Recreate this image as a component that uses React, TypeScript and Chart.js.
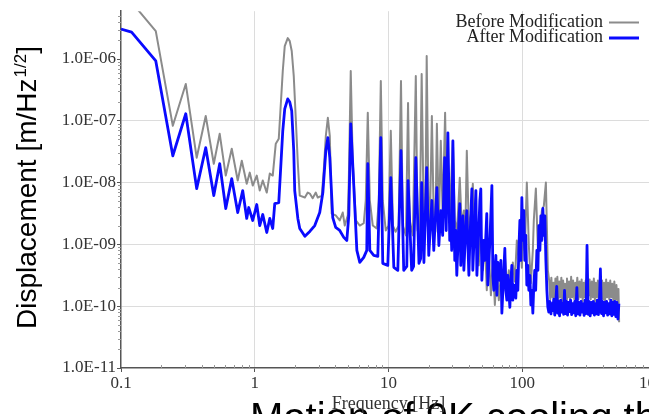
import React, { useEffect, useRef } from 'react';
import { Chart, registerables } from 'chart.js';

Chart.register(...registerables);

// ---------------- data (Hz, m/Hz^1/2) ----------------
const afterLowFreq = [
  0.1, 0.12, 0.182, 0.244, 0.305, 0.368, 0.43, 0.494, 0.547, 0.607,
  0.673, 0.746, 0.813, 0.871, 0.902, 0.966, 1.035, 1.09, 1.148, 1.23,
  1.295, 1.363, 1.411, 1.512, 1.62, 1.676, 1.765, 1.827, 1.89, 1.957,
  1.99, 2.1, 2.17, 2.37, 2.58, 2.81, 3.06, 3.23, 3.4, 3.52,
  3.64, 3.83, 4.03, 4.32, 4.63, 4.88, 5.05, 5.22, 5.5, 5.8,
  6.1, 6.53, 6.88, 7.0, 7.25, 7.76, 8.32, 8.76, 9.06, 9.88,
  10.4, 10.96, 11.74, 12.4, 13.0, 13.7, 14.0, 14.9, 15.4, 16.0,
  16.9, 17.4, 17.7, 18.4,
];
const afterLowVal = [
  3.05e-6, 2.72e-6, 9.3e-7, 2.72e-8, 1.3e-7, 8.0e-9, 3.67e-8, 6.17e-9, 2.02e-8, 3.81e-9,
  1.16e-8, 3.28e-9, 7.43e-9, 2.63e-9, 3.95e-9, 2.44e-9, 4.42e-9, 2.02e-9, 3.05e-9, 1.56e-9,
  2.63e-9, 1.81e-9, 4.58e-9, 4.75e-9, 6.9e-8, 1.56e-7, 2.26e-7, 2.02e-7, 1.45e-7, 3.28e-8,
  7.43e-9, 2.63e-9, 1.81e-9, 1.35e-9, 1.62e-9, 2.02e-9, 3.28e-9, 6.9e-9, 3.28e-8, 5.32e-8,
  2.53e-8, 2.72e-9, 1.88e-9, 1.68e-9, 1.3e-9, 1.16e-9, 2.94e-9, 8.95e-8, 8.95e-9, 8.0e-10,
  5.13e-10, 6.17e-10, 8.0e-10, 2.02e-8, 8.0e-10, 6.65e-10, 6.4e-10, 5.32e-8, 4.94e-10, 4.58e-10,
  1.2e-8, 4.26e-10, 3.81e-10, 3.28e-8, 3.81e-10, 4.4e-10, 1.08e-8, 3.81e-10, 4.4e-10, 2.53e-8,
  4.94e-10, 5.9e-10, 1.0e-8, 5.1e-10,
];

const afterMidFreq = [
  19.3, 20.0, 21.1, 21.8, 23.0, 23.8, 24.6, 25.4, 26.3, 27.0,
  27.8, 28.7, 29.2, 29.7, 30.3, 31.3, 31.8, 32.4, 33.6, 34.1,
  34.7, 36.0, 36.6, 37.9, 38.5, 39.9, 40.6, 42.0, 42.7, 44.2,
  45.0, 45.8, 47.3, 48.2, 49.0, 49.9, 51.6, 52.5, 54.3, 55.3,
  57.3, 59.3, 60.3, 61.3, 63.5, 64.6, 65.7, 68.0, 69.2, 70.4,
  72.8, 74.1, 75.4, 76.7, 78.0, 80.8, 82.2, 83.6, 85.0, 86.5,
  89.5, 91.1, 92.7, 94.3, 96.0, 97.6, 99.3, 101, 102.8, 104.5,
  106.3, 108.2, 110, 112, 114, 116, 118, 120, 122, 124,
  126, 128.6, 131, 133, 135.5, 137.8, 140.2, 142.6, 145, 147.6,
  150.2, 152.8, 155.4,
];
const afterMidVal = [
  1.75e-8, 6.65e-10, 5.13e-9, 8.0e-10, 8.3e-9, 9.6e-10, 3.53e-9, 1.4e-9, 2.53e-8, 1.68e-9,
  6.4e-8, 1.16e-9, 2.44e-9, 8.0e-10, 4.75e-8, 5.52e-10, 1.68e-9, 3.16e-10, 2.44e-9, 4.58e-9,
  4.58e-10, 2.9e-9, 3.81e-10, 2.02e-9, 3.53e-9, 3.16e-10, 1.16e-9, 7.9e-9, 3.81e-10, 2.44e-9,
  7.43e-9, 3.16e-10, 1.68e-9, 5.13e-9, 7.9e-9, 2.63e-10, 1.16e-9, 5.52e-10, 3.16e-9, 2.2e-10,
  1.16e-9, 8.95e-9, 3.16e-10, 1.81e-10, 6.65e-10, 1.5e-10, 5.1e-10, 2.63e-10, 5.52e-10, 7.7e-11,
  3.81e-10, 8.6e-10, 1.81e-10, 1.25e-10, 3.16e-10, 9.6e-11, 2.63e-10, 4.58e-10, 1.25e-10, 2.2e-10,
  1.35e-10, 3.81e-10, 1.81e-10, 8.0e-10, 2.44e-9, 5.52e-10, 5.73e-9, 1.16e-9, 3.53e-9, 5.52e-10,
  1.4e-9, 2.2e-10, 4.58e-10, 1.81e-10, 3.16e-10, 1.05e-10, 1.81e-10, 7.7e-11, 2.2e-10, 3.81e-10,
  1.81e-10, 8.0e-10, 3.81e-10, 2.02e-9, 8.0e-10, 2.9e-9, 1.16e-9, 3.81e-9, 1.4e-9, 2.9e-9,
  5.52e-10, 1.81e-10, 9.6e-11,
];

const afterHighFreq = [
  158, 161, 164, 166, 169, 172, 175, 178, 181, 184,
  187, 190, 194, 197, 200, 204, 207, 211, 215, 218,
  222, 226, 230, 234, 238, 242, 247, 251, 256, 260,
  265, 270, 275, 280, 285, 290, 295, 300, 305, 311,
  316, 322, 328, 334, 340, 346, 352, 358, 364, 371,
  377, 384, 391, 398, 405, 412, 420, 427, 435, 443,
  451, 459, 467, 475, 484, 492, 501, 510, 519, 528,
];
const afterHighVal = [
  8.0e-11, 1.2e-10, 7.5e-11, 1.1e-10, 8.5e-11, 1.3e-10, 7.2e-11, 1.15e-10, 2.1e-10, 7.7e-11,
  1.2e-10, 7.0e-11, 1.25e-10, 8.0e-11, 1.1e-10, 7.4e-11, 1.8e-10, 7.6e-11, 1.2e-10, 7.2e-11,
  1.15e-10, 8.2e-11, 1.25e-10, 7.3e-11, 1.1e-10, 7.8e-11, 1.2e-10, 7.0e-11, 2.0e-10, 7.5e-11,
  1.15e-10, 7.2e-11, 1.2e-10, 8.0e-11, 1.1e-10, 7.1e-11, 1.25e-10, 7.6e-11, 9.6e-10, 7.4e-11,
  1.2e-10, 7.0e-11, 1.15e-10, 7.8e-11, 1.2e-10, 7.2e-11, 1.1e-10, 7.5e-11, 1.25e-10, 7.3e-11,
  1.1e-10, 4.0e-10, 7.6e-11, 1.2e-10, 7.0e-11, 1.15e-10, 7.8e-11, 1.2e-10, 7.2e-11, 1.1e-10,
  7.5e-11, 1.25e-10, 7.0e-11, 1.15e-10, 7.4e-11, 1.2e-10, 6.8e-11, 1.15e-10, 6.2e-11, 1.1e-10,
];

const beforeLowFreq = [
  0.1, 0.12, 0.182, 0.244, 0.305, 0.368, 0.43, 0.494, 0.547, 0.607,
  0.673, 0.746, 0.8, 0.871, 0.918, 0.966, 1.035, 1.09, 1.148, 1.23,
  1.295, 1.363, 1.436, 1.512, 1.62, 1.676, 1.765, 1.827, 1.89, 1.957,
  2.03, 2.1, 2.17, 2.37, 2.49, 2.58, 2.71, 2.86, 2.96, 3.17,
  3.28, 3.4, 3.52, 3.64, 3.76, 4.03, 4.32, 4.55, 4.71, 4.96,
  5.05, 5.22, 5.4, 5.7, 6.1, 6.53, 6.76, 7.0, 7.25, 7.63,
  8.17, 8.46, 8.76, 9.06, 9.54, 10.0, 10.4, 10.8, 11.3, 11.9,
  12.4, 12.8, 13.5, 14.0, 14.4, 15.2, 16.0, 16.5, 17.1, 17.7,
  18.4,
];
const beforeLowVal = [
  9.3e-6, 8.3e-6, 2.83e-6, 8.3e-8, 3.95e-7, 2.53e-8, 1.2e-7, 2.02e-8, 6.17e-8, 1.3e-8,
  3.53e-8, 1.08e-8, 2.26e-8, 9.6e-9, 1.45e-8, 8.95e-9, 1.3e-8, 7.43e-9, 1.08e-8, 6.9e-9,
  1.4e-8, 1.3e-8, 4.26e-8, 5.13e-8, 6.4e-7, 1.62e-6, 2.18e-6, 1.95e-6, 1.35e-6, 5.32e-7,
  1.0e-7, 2.02e-8, 6.17e-9, 5.73e-9, 6.9e-9, 6.65e-9, 5.6e-9, 6.9e-9, 5.73e-9, 6.17e-9,
  1.56e-8, 5.73e-8, 1.12e-7, 5.73e-8, 3.16e-9, 2.94e-9, 2.44e-9, 3.28e-9, 2.02e-9, 2.94e-9,
  1.08e-8, 6.4e-7, 2.26e-8, 2.44e-9, 2.02e-9, 2.2e-9, 5.13e-9, 1.35e-7, 5.13e-9, 2.02e-9,
  1.81e-9, 5.1e-9, 4.42e-7, 5.1e-9, 1.68e-9, 2.0e-9, 6.9e-8, 2.0e-9, 1.6e-9, 2.0e-9,
  4.42e-7, 2.0e-9, 1.4e-9, 1.95e-7, 2.44e-9, 1.4e-9, 5.32e-7, 1.68e-9, 1.4e-9, 5.73e-7,
  1.6e-9,
];

const beforeMidFreq = [
  18.85, 19.3, 20.0, 20.4, 21.1, 21.8, 22.4, 23.0, 23.8, 24.6,
  25.4, 26.5, 27.3, 28.2, 28.7, 30.3, 31.3, 32.4, 33.0, 34.1,
  35.3, 36.6, 37.5, 38.5, 39.9, 41.3, 42.7, 44.2, 45.8, 47.3,
  49.0, 50.7, 52.5, 54.3, 56.2, 58.3, 60.3, 62.4, 64.6, 66.8,
  69.2, 71.6, 74.1, 76.7, 79.4, 82.2, 85.0, 88.0, 91.1, 94.3,
  96.0, 99.3, 102.8, 104.5, 108.2, 112, 116, 120, 122, 126.4,
  131, 135.5, 140.2, 145, 150.2, 155.4,
];
const beforeMidVal = [
  2.02e-9, 1.12e-6, 1.68e-9, 2.2e-9, 1.2e-7, 2.44e-9, 1.6e-9, 8.95e-8, 2.02e-9, 4.75e-8,
  2.94e-9, 1.35e-7, 3.53e-9, 5.13e-9, 2.94e-9, 4.75e-8, 2.44e-9, 1.68e-9, 2.94e-9, 1.2e-8,
  2.02e-9, 3.53e-9, 1.4e-9, 3.28e-8, 1.68e-9, 2.94e-9, 9.6e-9, 1.16e-9, 2.02e-9, 4.58e-10,
  1.68e-9, 3.81e-10, 1.16e-9, 1.81e-10, 8.0e-10, 1.5e-10, 5.52e-10, 1.05e-10, 3.81e-10, 1.25e-10,
  3.16e-10, 1.5e-10, 6.65e-10, 2.2e-10, 3.81e-10, 1.7e-10, 5.1e-10, 2.5e-10, 1.16e-9, 5.52e-10,
  1.68e-9, 4.2e-10, 3.53e-9, 8.0e-10, 1.0e-8, 9.6e-10, 2.35e-10, 8.0e-10, 2.44e-9, 8.0e-9,
  8.0e-10, 1.68e-9, 3.53e-9, 4.2e-9, 1.0e-8, 3.81e-10,
];

const beforeHighFreq = [
  159, 162, 165, 168, 171, 174, 177, 180, 183, 186,
  189, 192, 196, 199, 202, 206, 209, 213, 216, 220,
  224, 228, 232, 236, 240, 245, 249, 253, 258, 263,
  268, 273, 278, 283, 288, 293, 298, 303, 308, 314,
  319, 325, 331, 337, 343, 349, 355, 361, 368, 374,
  381, 388, 395, 402, 409, 416, 424, 431, 439, 447,
  455, 463, 471, 480, 488, 497, 506, 515, 524, 530,
];
const beforeHighVal = [
  2.6e-10, 1.3e-10, 2.9e-10, 1.4e-10, 2.4e-10, 1.2e-10, 2.8e-10, 1.5e-10, 3.0e-10, 1.3e-10,
  2.5e-10, 1.4e-10, 2.9e-10, 1.2e-10, 2.6e-10, 1.5e-10, 2.3e-10, 1.3e-10, 2.8e-10, 1.4e-10,
  2.5e-10, 1.2e-10, 3.0e-10, 1.4e-10, 2.6e-10, 1.3e-10, 2.4e-10, 1.5e-10, 2.9e-10, 1.3e-10,
  2.5e-10, 1.4e-10, 2.7e-10, 1.2e-10, 2.4e-10, 1.4e-10, 2.6e-10, 1.3e-10, 2.3e-10, 1.5e-10,
  2.7e-10, 1.3e-10, 2.5e-10, 1.4e-10, 2.8e-10, 1.2e-10, 2.4e-10, 1.4e-10, 2.6e-10, 1.3e-10,
  2.3e-10, 1.5e-10, 2.6e-10, 1.3e-10, 2.4e-10, 1.2e-10, 2.7e-10, 1.4e-10, 2.4e-10, 1.3e-10,
  2.6e-10, 1.4e-10, 2.3e-10, 1.2e-10, 2.5e-10, 1.3e-10, 2.2e-10, 1.1e-10, 1.9e-10, 5.5e-11,
];

const xTickValues = [0.1, 1, 10, 100, 1000];
const xTickLabels = ['0.1', '1', '10', '100', '1000'];
const yTickValues = [1e-11, 1e-10, 1e-9, 1e-8, 1e-7, 1e-6];
const yTickLabels = ['1.0E-11', '1.0E-10', '1.0E-09', '1.0E-08', '1.0E-07', '1.0E-06'];
const minorMultipliers = [2, 3, 4, 5, 6, 7, 8, 9];

const seriesNames = ['Before Modification', 'After Modification'];
const xTitle = 'Frequency [Hz]';
const yTitleMain = 'Displacement [m/Hz';
const yTitleSup = '1/2';
const yTitleEnd = ']';
const captionText = 'Motion of 9K cooling the';

const GRAY = '#8b8b8b';
const BLUE = '#0a0aff';
const SERIF = '"Liberation Serif", "Times New Roman", serif';
const SANS = '"Liberation Sans", Arial, sans-serif';

function pairs(f: number[], v: number[]) {
  return f.map((x, i) => ({ x, y: v[i] }));
}

export default function App() {
  const ref = useRef<HTMLCanvasElement | null>(null);

  useEffect(() => {
    const canvas = ref.current;
    if (!canvas) return;

    const overlay = {
      id: 'overlay',
      afterDraw(chart: any) {
        const ctx = chart.ctx as CanvasRenderingContext2D;
        const area = chart.chartArea;
        const xs = chart.scales.x;
        const ys = chart.scales.y;
        ctx.save();

        // minor ticks
        ctx.strokeStyle = '#999';
        ctx.lineWidth = 1;
        ctx.beginPath();
        for (const d of yTickValues) {
          for (const m of minorMultipliers) {
            const v = d * m;
            if (v > ys.max) continue;
            const py = Math.round(ys.getPixelForValue(v)) + 0.5;
            ctx.moveTo(area.left - 3, py);
            ctx.lineTo(area.left, py);
          }
        }
        for (const d of xTickValues.slice(0, 4)) {
          for (const m of minorMultipliers) {
            const v = d * m;
            const px = Math.round(xs.getPixelForValue(v)) + 0.5;
            ctx.moveTo(px, area.bottom);
            ctx.lineTo(px, area.bottom - 3);
          }
        }
        ctx.stroke();

        // big caption (cut off at the bottom edge)
        ctx.fillStyle = '#000';
        ctx.font = `40px ${SANS}`;
        ctx.textAlign = 'left';
        ctx.textBaseline = 'alphabetic';
        ctx.fillText(captionText, 250, 431);

        // x title
        ctx.font = `18px ${SERIF}`;
        ctx.fillStyle = '#333';
        ctx.textAlign = 'center';
        ctx.fillText(xTitle, (area.left + area.right) / 2, 409);

        // legend
        ctx.font = `18px ${SERIF}`;
        ctx.fillStyle = '#222';
        ctx.textAlign = 'right';
        ctx.fillText(seriesNames[0], 603, 27);
        ctx.fillText(seriesNames[1], 603, 42);
        ctx.lineCap = 'butt';
        ctx.strokeStyle = GRAY;
        ctx.lineWidth = 2;
        ctx.beginPath();
        ctx.moveTo(609, 22.5);
        ctx.lineTo(639, 22.5);
        ctx.stroke();
        ctx.strokeStyle = BLUE;
        ctx.lineWidth = 3;
        ctx.beginPath();
        ctx.moveTo(609, 38);
        ctx.lineTo(639, 38);
        ctx.stroke();
        ctx.restore();

        // y title, rotated
        ctx.save();
        ctx.translate(36, 329);
        ctx.rotate(-Math.PI / 2);
        ctx.fillStyle = '#000';
        ctx.textAlign = 'left';
        ctx.textBaseline = 'alphabetic';
        ctx.font = `28px ${SANS}`;
        ctx.fillText(yTitleMain, 0, 0);
        let w = ctx.measureText(yTitleMain).width;
        ctx.font = `17px ${SANS}`;
        ctx.fillText(yTitleSup, w + 1, -10);
        w += ctx.measureText(yTitleSup).width + 1;
        ctx.font = `28px ${SANS}`;
        ctx.fillText(yTitleEnd, w, 0);
        ctx.restore();
      },
    };

    const chart = new Chart(canvas, {
      type: 'line',
      data: {
        datasets: [
          {
            label: seriesNames[1],
            data: [
              ...pairs(afterLowFreq, afterLowVal),
              ...pairs(afterMidFreq, afterMidVal),
              ...pairs(afterHighFreq, afterHighVal),
            ],
            borderColor: BLUE,
            borderWidth: 2.8,
            pointRadius: 0,
            tension: 0,
            borderJoinStyle: 'round',
            fill: false,
          },
          {
            label: seriesNames[0],
            data: [
              ...pairs(beforeLowFreq, beforeLowVal),
              ...pairs(beforeMidFreq, beforeMidVal),
              ...pairs(beforeHighFreq, beforeHighVal),
            ],
            borderColor: GRAY,
            borderWidth: 2,
            pointRadius: 0,
            tension: 0,
            borderJoinStyle: 'round',
            fill: false,
          },
        ],
      },
      options: {
        responsive: false,
        animation: false,
        events: [],
        layout: { padding: { top: 10, right: 44, bottom: 0, left: 0 } },
        plugins: {
          legend: { display: false },
          tooltip: { enabled: false },
          title: { display: false },
        },
        scales: {
          x: {
            type: 'logarithmic',
            min: 0.1,
            max: 1000,
            afterFit: (s: any) => {
              s.height = 46;
            },
            afterBuildTicks: (s: any) => {
              s.ticks = xTickValues.map((v) => ({ value: v }));
            },
            ticks: {
              autoSkip: false,
              maxRotation: 0,
              padding: 1,
              color: '#333',
              font: { family: SERIF, size: 17 },
              callback: (_v: any, i: number) => xTickLabels[i],
            },
            grid: {
              color: (c: any) => (c.tick && c.tick.value === 0.1 ? 'rgba(0,0,0,0)' : '#dcdcdc'),
              tickColor: '#555',
              tickLength: 4,
              lineWidth: 1,
            },
            border: { display: true, color: '#555', width: 1.5 },
          },
          y: {
            type: 'logarithmic',
            min: 1e-11,
            max: 5.94e-6,
            afterFit: (s: any) => {
              s.width = 121;
            },
            afterBuildTicks: (s: any) => {
              s.ticks = yTickValues.map((v) => ({ value: v }));
            },
            ticks: {
              autoSkip: false,
              padding: 1,
              color: '#333',
              font: { family: SERIF, size: 17 },
              callback: (_v: any, i: number) => yTickLabels[i],
            },
            grid: {
              color: (c: any) =>
                c.tick && (c.tick.value === 1e-6 || c.tick.value === 1e-11) ? 'rgba(0,0,0,0)' : '#dcdcdc',
              tickColor: '#555',
              tickLength: 4,
              lineWidth: 1,
            },
            border: { display: true, color: '#555', width: 1.5 },
          },
        },
      },
      plugins: [overlay],
    } as any);

    return () => chart.destroy();
  }, []);

  return (
    <div
      style={{
        position: 'fixed',
        left: 0,
        top: 0,
        width: 649,
        height: 414,
        overflow: 'hidden',
        background: '#fff',
      }}
    >
      <canvas ref={ref} width={700} height={414} style={{ display: 'block', width: 700, height: 414 }} />
    </div>
  );
}
